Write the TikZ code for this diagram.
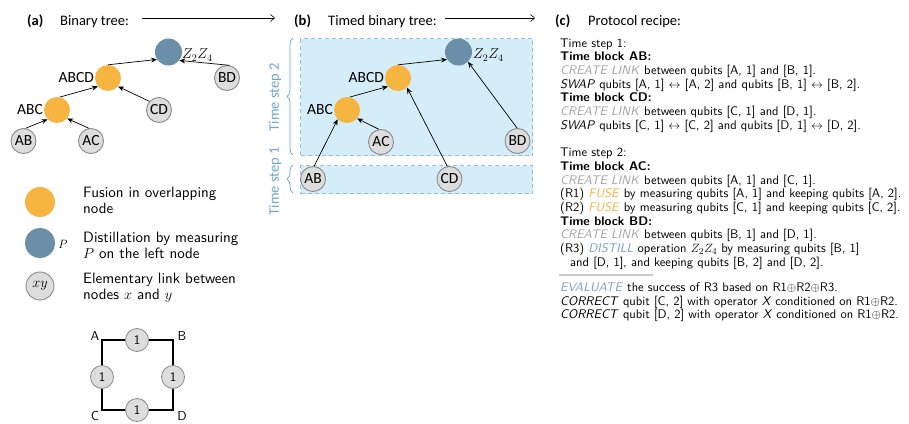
\documentclass[tikz,border=0pt]{standalone}
\usepackage{fontspec}
\setsansfont{lmsans10-regular.otf}[BoldFont=lmsans10-bold.otf, ItalicFont=lmsans10-oblique.otf, BoldItalicFont=lmsans10-boldoblique.otf]
\newfontfamily\carl{Carlito}
\usetikzlibrary{arrows.meta,decorations.pathreplacing}
\definecolor{orng}{HTML}{F6B540}
\definecolor{bluen}{HTML}{6B8FA8}
\definecolor{grayfill}{HTML}{DDDDDD}
\definecolor{graydraw}{HTML}{8A8A8A}
\definecolor{boxfill}{HTML}{D5EDF8}
\definecolor{boxdraw}{HTML}{8EC3CF}
\definecolor{tsblue}{HTML}{6FA4CB}
\definecolor{createg}{HTML}{A3A3A3}
\definecolor{fuseo}{HTML}{F5B041}
\definecolor{distb}{HTML}{7E9EC2}
\definecolor{sepg}{HTML}{C8C8C8}
\tikzset{
 hdr/.style={font=\carl\fontsize{14.5}{16}\selectfont, inner sep=0, anchor=base west},
 fus/.style={circle, fill=orng, minimum size=26pt, inner sep=0},
 dst/.style={circle, fill=bluen, minimum size=27pt, inner sep=0},
 elem/.style={circle, fill=grayfill, draw=graydraw, line width=0.9pt, minimum size=25pt, inner sep=0, font=\carl\fontsize{15.5}{15.5}\selectfont},
 lbl/.style={font=\carl\fontsize{15.5}{15.5}\selectfont, inner sep=0, anchor=east},
 zlbl/.style={font=\fontsize{14}{14}\selectfont, inner sep=0, anchor=west},
 tarr/.style={-{Stealth[length=6pt,width=5pt]}, line width=0.7pt},
 harr/.style={-{Straight Barb[length=4pt,width=7pt]}, line width=0.6pt},
 leg/.style={font=\sffamily\fontsize{15}{16.5}\selectfont, align=left, anchor=north west, inner sep=0},
 sqn/.style={circle, fill=grayfill, draw=graydraw, line width=0.8pt, minimum size=23pt, inner sep=0, font=\sffamily\fontsize{13}{13}\selectfont},
 corner/.style={font=\sffamily\fontsize{13}{13}\selectfont, inner sep=0},
 sqline/.style={line width=2pt},
 tsbox/.style={fill=boxfill, draw=boxdraw, dash pattern=on 4pt off 3pt, line width=1pt, inner sep=0, anchor=north west},
 tsbrace/.style={draw=tsblue, line width=0.7pt, decorate, decoration={brace, amplitude=6pt}},
 tslbl/.style={font=\carl\fontsize{14.5}{15}\selectfont, text=tsblue, rotate=90, inner sep=0},
 recipe/.style={font=\sffamily\fontsize{12.5}{13.7}\selectfont, align=left, anchor=north west, inner sep=0},
}
\newcommand{\cl}{\textcolor{createg}{\textit{CREATE LINK}}}
\newcommand{\fuse}{\textcolor{fuseo}{\textit{FUSE}}}
\newcommand{\lra}{$\leftrightarrow$}
\begin{document}
\begin{tikzpicture}[x=1pt,y=-1pt]
\useasboundingbox (0,0) rectangle (909,423);

% headers
\node[hdr] (ha) at (27,25) {\bfseries (a)};
\node[hdr] (ta) at (60,25) {Binary tree:};
\node[hdr] (hb) at (294,25) {\bfseries (b)};
\node[hdr] (tb) at (328,25) {Timed binary tree:};
\node[hdr] (hc) at (555,25) {\bfseries (c)};
\node[hdr] (tc) at (588,25) {Protocol recipe:};
\coordinate (a1) at (142,18); \coordinate (a2) at (275,18);
\coordinate (b1) at (445,18); \coordinate (b2) at (535,18);
\draw[harr] (a1) -- (a2);
\draw[harr] (b1) -- (b2);

% (a) tree
\node[dst] (aTop) at (168.5,52) {};
\node[fus] (aABCD) at (108,78) {};
\node[fus] (aABC) at (57,110) {};
\node[elem] (aAB) at (23.5,141) {AB};
\node[elem] (aAC) at (91,141) {AC};
\node[elem] (aCD) at (159,110) {CD};
\node[elem] (aBD) at (227,78) {BD};
\node[lbl] (laABCD) at (94,78) {ABCD};
\node[lbl] (laABC) at (43,110) {ABC};
\node[zlbl] (laZ) at (182,55) {$Z_2Z_4$};
\draw[tarr] (aABC.78) -- (aABCD.220);
\draw[tarr] (aABCD.90) -- (aTop.213);
\draw[tarr] (aBD.78) -- (aTop.-38);
\draw[tarr] (aCD.138) -- (aABCD.-40);
\draw[tarr] (aAB.80) -- (aABC.225);
\draw[tarr] (aAC.100) -- (aABC.-40);

% legend
\node[fus, minimum size=30pt] (gF) at (40,202) {};
\node[dst, minimum size=30pt] (gD) at (40,243) {};
\node[inner sep=0, font=\fontsize{13}{13}\selectfont] (gP) at (63,244) {$P$};
\node[elem, minimum size=28pt, font=\fontsize{14}{14}\selectfont] (gE) at (40,286) {$xy$};
\node[leg] (tF) at (83,186.5) {Fusion in overlapping\\node};
\node[leg] (tD) at (83,231.5) {Distillation by measuring\\$P$ on the left node};
\node[leg] (tE) at (83,272.5) {Elementary link between\\nodes $x$ and $y$};

% square
\coordinate (cA) at (102,340); \coordinate (cB) at (173,340);
\coordinate (cC) at (102,410); \coordinate (cD) at (173,410);
\draw[sqline] (cA) -- (cB) -- (cD) -- (cC) -- cycle;
\node[sqn] (sT) at (137,340) {1};
\node[sqn] (sL) at (102,377) {1};
\node[sqn] (sR) at (173,377) {1};
\node[sqn] (sB) at (137,410) {1};
\node[corner] (nA) at (95,336) {A};
\node[corner] (nB) at (182,336) {B};
\node[corner] (nC) at (95,415.5) {C};
\node[corner] (nD) at (182,415.5) {D};

% (b) boxes
\node[tsbox, minimum width=232pt, minimum height=117pt] (ts2) at (300,38) {};
\node[tsbox, minimum width=232pt, minimum height=28pt] (ts1) at (300,165) {};
\draw[tsbrace] (293,155) -- (293,38);
\draw[tsbrace] (293,193) -- (293,165);
\node[tslbl] (l2) at (275,97) {Time step 2};
\node[tslbl] (l1) at (275,181) {Time step 1};

% (b) tree
\node[dst] (bTop) at (458.5,52) {};
\node[fus] (bABCD) at (398,78) {};
\node[fus] (bABC) at (347,110) {};
\node[elem] (bAC) at (381,142) {AC};
\node[elem] (bBD) at (517.5,141) {BD};
\node[elem] (bAB) at (313,179) {AB};
\node[elem] (bCD) at (449.5,179) {CD};
\node[lbl] (lbABCD) at (384,78) {ABCD};
\node[lbl] (lbABC) at (333,110) {ABC};
\node[zlbl] (lbZ) at (473,55) {$Z_2Z_4$};
\draw[tarr] (bAB.85) -- (bABC.225);
\draw[tarr] (bAC.100) -- (bABC.-40);
\draw[tarr] (bABC.78) -- (bABCD.220);
\draw[tarr] (bABCD.90) -- (bTop.213);
\draw[tarr] (bCD.100) -- (bABCD.-47);
\draw[tarr] (bBD.92) -- (bTop.-46);

% (c) recipe
\node[recipe] (r1) at (560,38.3) {%
Time step 1:\\
\textbf{Time block AB:}\\
\cl{} between qubits [A, 1] and [B, 1].\\
\textit{SWAP} qubits [A, 1] \lra{} [A, 2] and qubits [B, 1] \lra{} [B, 2].\\
\textbf{Time block CD:}\\
\cl{} between qubits [C, 1] and [D, 1].\\
\textit{SWAP} qubits [C, 1] \lra{} [C, 2] and qubits [D, 1] \lra{} [D, 2].\\[13.7pt]
Time step 2:\\
\textbf{Time block AC:}\\
\cl{} between qubits [A, 1] and [C, 1].\\
(R1) \fuse{} by measuring qubits [A, 1] and keeping qubits [A, 2].\\
(R2) \fuse{} by measuring qubits [C, 1] and keeping qubits [C, 2].\\
\textbf{Time block BD:}\\
\cl{} between qubits [B, 1] and [D, 1].\\
(R3) \textcolor{distb}{\textit{DISTILL}} operation $Z_2Z_4$ by measuring qubits [B, 1]\\
\hspace*{10pt}and [D, 1], and keeping qubits [B, 2] and [D, 2].};
\coordinate (s1) at (559,275); \coordinate (s2) at (653,275);
\draw[sepg, line width=1.2pt] (s1) -- (s2);
\node[recipe] (r3) at (560,282.3) {%
\textcolor{distb}{\textit{EVALUATE}} the success of R3 based on R1$\oplus$R2$\oplus$R3.\\
\textit{CORRECT} qubit [C, 2] with operator \textit{X} conditioned on R1$\oplus$R2.\\
\textit{CORRECT} qubit [D, 2] with operator \textit{X} conditioned on R1$\oplus$R2.};
\end{tikzpicture}
\end{document}
